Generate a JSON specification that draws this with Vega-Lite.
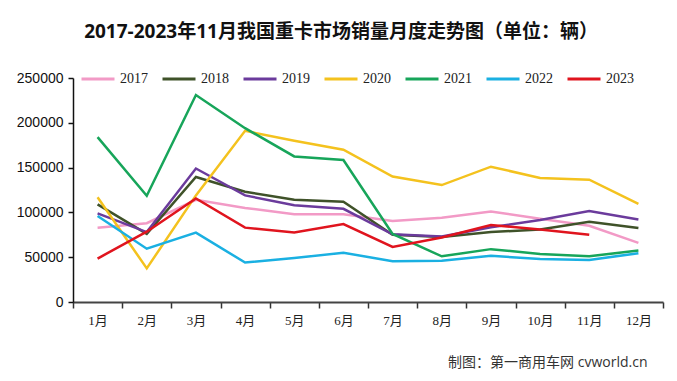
{
  "$schema": "https://vega.github.io/schema/vega-lite/v6.json",
  "width": 590,
  "height": 224,
  "autosize": {"type": "none"},
  "padding": {"left": 73, "top": 78, "right": 14, "bottom": 79},
  "background": "white",
  "title": {
    "text": "2017-2023年11月我国重卡市场销量月度走势图（单位：辆）",
    "font": "Open Sans, Noto Sans CJK SC, sans-serif",
    "fontSize": 19,
    "fontWeight": "bold",
    "color": "#111111",
    "anchor": "middle",
    "dx": -27,
    "offset": 19
  },
  "config": {
    "view": {"stroke": null}
  },
  "data": {
    "values": [
      {"month": "1月", "year": "2017", "sales": 83000},
      {"month": "2月", "year": "2017", "sales": 88000},
      {"month": "3月", "year": "2017", "sales": 114000},
      {"month": "4月", "year": "2017", "sales": 105000},
      {"month": "5月", "year": "2017", "sales": 98000},
      {"month": "6月", "year": "2017", "sales": 98000},
      {"month": "7月", "year": "2017", "sales": 90500},
      {"month": "8月", "year": "2017", "sales": 94000},
      {"month": "9月", "year": "2017", "sales": 101000},
      {"month": "10月", "year": "2017", "sales": 93000},
      {"month": "11月", "year": "2017", "sales": 85000},
      {"month": "12月", "year": "2017", "sales": 66000},

      {"month": "1月", "year": "2018", "sales": 109000},
      {"month": "2月", "year": "2018", "sales": 76000},
      {"month": "3月", "year": "2018", "sales": 139500},
      {"month": "4月", "year": "2018", "sales": 123000},
      {"month": "5月", "year": "2018", "sales": 114000},
      {"month": "6月", "year": "2018", "sales": 112000},
      {"month": "7月", "year": "2018", "sales": 75000},
      {"month": "8月", "year": "2018", "sales": 72500},
      {"month": "9月", "year": "2018", "sales": 78000},
      {"month": "10月", "year": "2018", "sales": 81000},
      {"month": "11月", "year": "2018", "sales": 89500},
      {"month": "12月", "year": "2018", "sales": 82500},

      {"month": "1月", "year": "2019", "sales": 99000},
      {"month": "2月", "year": "2019", "sales": 78000},
      {"month": "3月", "year": "2019", "sales": 149000},
      {"month": "4月", "year": "2019", "sales": 119000},
      {"month": "5月", "year": "2019", "sales": 108000},
      {"month": "6月", "year": "2019", "sales": 104000},
      {"month": "7月", "year": "2019", "sales": 75500},
      {"month": "8月", "year": "2019", "sales": 73000},
      {"month": "9月", "year": "2019", "sales": 83500},
      {"month": "10月", "year": "2019", "sales": 91500},
      {"month": "11月", "year": "2019", "sales": 101500},
      {"month": "12月", "year": "2019", "sales": 92000},

      {"month": "1月", "year": "2020", "sales": 117000},
      {"month": "2月", "year": "2020", "sales": 37500},
      {"month": "3月", "year": "2020", "sales": 119000},
      {"month": "4月", "year": "2020", "sales": 191000},
      {"month": "5月", "year": "2020", "sales": 180000},
      {"month": "6月", "year": "2020", "sales": 170000},
      {"month": "7月", "year": "2020", "sales": 140000},
      {"month": "8月", "year": "2020", "sales": 130500},
      {"month": "9月", "year": "2020", "sales": 151000},
      {"month": "10月", "year": "2020", "sales": 138500},
      {"month": "11月", "year": "2020", "sales": 136500},
      {"month": "12月", "year": "2020", "sales": 109500},

      {"month": "1月", "year": "2021", "sales": 184000},
      {"month": "2月", "year": "2021", "sales": 118500},
      {"month": "3月", "year": "2021", "sales": 231000},
      {"month": "4月", "year": "2021", "sales": 194000},
      {"month": "5月", "year": "2021", "sales": 162500},
      {"month": "6月", "year": "2021", "sales": 158500},
      {"month": "7月", "year": "2021", "sales": 76000},
      {"month": "8月", "year": "2021", "sales": 51000},
      {"month": "9月", "year": "2021", "sales": 59000},
      {"month": "10月", "year": "2021", "sales": 53500},
      {"month": "11月", "year": "2021", "sales": 51000},
      {"month": "12月", "year": "2021", "sales": 57500},

      {"month": "1月", "year": "2022", "sales": 96000},
      {"month": "2月", "year": "2022", "sales": 59500},
      {"month": "3月", "year": "2022", "sales": 77500},
      {"month": "4月", "year": "2022", "sales": 44000},
      {"month": "5月", "year": "2022", "sales": 49000},
      {"month": "6月", "year": "2022", "sales": 55000},
      {"month": "7月", "year": "2022", "sales": 45500},
      {"month": "8月", "year": "2022", "sales": 46000},
      {"month": "9月", "year": "2022", "sales": 51500},
      {"month": "10月", "year": "2022", "sales": 48000},
      {"month": "11月", "year": "2022", "sales": 47000},
      {"month": "12月", "year": "2022", "sales": 54500},

      {"month": "1月", "year": "2023", "sales": 48500},
      {"month": "2月", "year": "2023", "sales": 78500},
      {"month": "3月", "year": "2023", "sales": 115500},
      {"month": "4月", "year": "2023", "sales": 83000},
      {"month": "5月", "year": "2023", "sales": 77500},
      {"month": "6月", "year": "2023", "sales": 87000},
      {"month": "7月", "year": "2023", "sales": 61500},
      {"month": "8月", "year": "2023", "sales": 72000},
      {"month": "9月", "year": "2023", "sales": 86000},
      {"month": "10月", "year": "2023", "sales": 81000},
      {"month": "11月", "year": "2023", "sales": 75000}
    ]
  },
  "mark": {"type": "line", "strokeWidth": 2.5, "strokeJoin": "miter"},
  "encoding": {
    "x": {
      "field": "month",
      "type": "ordinal",
      "sort": ["1月","2月","3月","4月","5月","6月","7月","8月","9月","10月","11月","12月"],
      "scale": {"paddingInner": 0, "paddingOuter": 0},
      "axis": {
        "title": "制图：第一商用车网  cvworld.cn",
        "titleFont": "Open Sans, Noto Sans CJK SC, sans-serif",
        "titleFontSize": 14,
        "titleFontWeight": "normal",
        "titleColor": "#333333",
        "titleAnchor": "end",
        "titleAlign": "right",
        "titleBaseline": "middle",
        "titleX": 574,
        "titleY": 60,
        "labelAngle": 0,
        "labelFont": "Liberation Serif, Noto Sans CJK SC",
        "labelFontSize": 13,
        "labelColor": "#222222",
        "labelPadding": 6,
        "domainColor": "#444444",
        "domainWidth": 2,
        "tickColor": "#333333",
        "tickWidth": 1.5,
        "tickSize": 6,
        "tickBand": "extent",
        "bandPosition": 0
      }
    },
    "y": {
      "field": "sales",
      "type": "quantitative",
      "scale": {"domain": [0, 250000]},
      "axis": {
        "title": null,
        "format": "d",
        "values": [0, 50000, 100000, 150000, 200000, 250000],
        "grid": false,
        "labelFont": "Liberation Sans",
        "labelFontSize": 14,
        "labelColor": "#111111",
        "labelPadding": 5,
        "domainColor": "#111111",
        "domainWidth": 1.5,
        "tickColor": "#111111",
        "tickWidth": 1.5,
        "tickSize": 5
      }
    },
    "color": {
      "field": "year",
      "type": "nominal",
      "scale": {
        "domain": ["2017","2018","2019","2020","2021","2022","2023"],
        "range": ["#F29AC6","#3F5229","#6B3B9C","#F4C21E","#17A55A","#1AB0E2","#E0141E"]
      },
      "legend": {
        "title": null,
        "orient": "none",
        "direction": "horizontal",
        "columns": 7,
        "legendX": 7,
        "legendY": -17,
        "symbolType": "stroke",
        "symbolSize": 1089,
        "symbolStrokeWidth": 3,
        "labelFont": "Liberation Serif",
        "labelFontSize": 14,
        "labelColor": "#222222",
        "labelOffset": 4,
        "columnPadding": 8
      }
    }
  }
}
